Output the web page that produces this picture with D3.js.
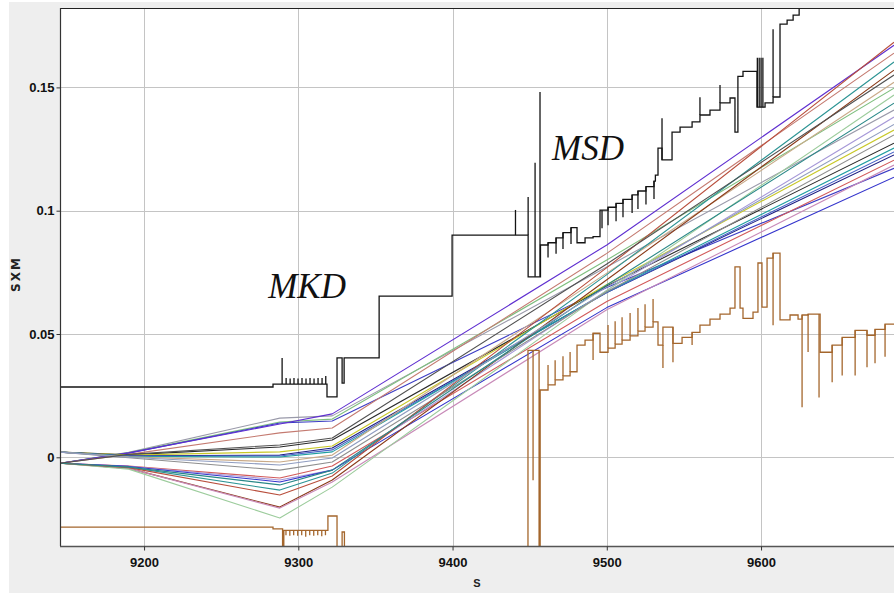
<!DOCTYPE html>
<html><head><meta charset="utf-8">
<script src="https://cdn.jsdelivr.net/npm/d3@7"></script>
<style>
html,body{margin:0;padding:0;background:#fff;}
svg{display:block;}
</style></head>
<body>
<svg id="c" width="894" height="595"></svg>
<script>
// ---------- DATA ----------
const xTicks = [9200, 9300, 9400, 9500, 9600];
const xTickLabels = ["9200", "9300", "9400", "9500", "9600"];
const yTicks = [0, 0.05, 0.1, 0.15];
const yTickLabels = ["0", "0.05", "0.1", "0.15"];
const xTitle = "S";
const yTitle = "SXM";
const annotations = ["MKD", "MSD"];

// S positions where the beam trajectories are sampled
const sKnots = [9145.5, 9190, 9288, 9322, 9500, 9686.2];
// trajectory SXM values at the knots
const trajectories = [
  [-0.0024, 0.0020, 0.0159, 0.0168, 0.0772, 0.1408],
  [-0.0024, 0.0019, 0.0143, 0.0155, 0.0800, 0.1497],
  [-0.0024, 0.0017, 0.0139, 0.0147, 0.0689, 0.1172],
  [-0.0024, 0.0018, 0.0135, 0.0176, 0.0861, 0.1671],
  [-0.0024, 0.0012, 0.0099, 0.0119, 0.0827, 0.1639],
  [ 0.0021, 0.0010, 0.0042, 0.0070, 0.0695, 0.1274],
  [ 0.0021, 0.0009, 0.0022, 0.0046, 0.0701, 0.1327],
  [ 0.0021, 0.0006, 0.0009, 0.0038, 0.0668, 0.1226],
  [ 0.0021, 0.0005, 0.0005, 0.0030, 0.0668, 0.1238],
  [ 0.0021, 0.0004, 0.0001, 0.0022, 0.0671, 0.1254],
  [ 0.0021, 0.0002,-0.0019, 0.0009, 0.0747, 0.1521],
  [-0.0024,-0.0035,-0.0084,-0.0035, 0.0632, 0.1205],
  [-0.0024,-0.0036,-0.0092,-0.0052, 0.0677, 0.1380],
  [-0.0024,-0.0037,-0.0100,-0.0052, 0.0607, 0.1136],
  [-0.0024,-0.0040,-0.0133,-0.0064, 0.0741, 0.1603],
  [-0.0024,-0.0045,-0.0202,-0.0092, 0.0720, 0.1570],
  [-0.0024,-0.0045,-0.0206,-0.0100, 0.0598, 0.1185],
  [-0.0024,-0.0048,-0.0246,-0.0121, 0.0677, 0.1469],
  [ 0.0021,-0.0002,-0.0052,-0.0019, 0.0671, 0.1307],
  [-0.0024,-0.0042,-0.0153,-0.0076, 0.0769, 0.1683],
  [-0.0024,-0.0040,-0.0112,-0.0052, 0.0699, 0.1436],
  [ 0.0021, 0.0000,-0.0031,-0.0003, 0.0691, 0.1350],
  [-0.0024, 0.0012, 0.0050, 0.0078, 0.0784, 0.1550]
];
const trajColors = [
  "#9a9aaa", "#7fbf7f", "#3c3cc4", "#5f2fd0", "#c47a70", "#2a2a2a",
  "#c8c828", "#1e1e82", "#4a64c8", "#1e9ea0", "#c9aa88", "#d25a5a",
  "#a698d8", "#3434cc", "#2c9494", "#8a3a18", "#c88ab8", "#9ccc9c",
  "#8e8e8e", "#b84e3c", "#2a8888", "#8f9cc0", "#505050"
];

// upper aperture (black): [S, level] step starts
const upperSteps = [
  [9145.5,0.0285],[9283.6,0.0297],[9318.6,0.0245],[9325.1,0.0403],[9328.4,0.0301],
  [9329.7,0.0403],[9352.4,0.0654],[9399.7,0.0901],[9449.0,0.0732],[9457.0,0.0861],
  [9461.9,0.0870],[9467.1,0.0890],[9471.6,0.0911],[9476.8,0.0931],[9480.7,0.0870],
  [9485.9,0.0890],[9491.1,0.0895],[9495.6,0.1002],[9500.8,0.1014],[9506.0,0.1030],
  [9510.5,0.1046],[9516.4,0.1064],[9520.2,0.1080],[9525.4,0.1098],[9530.6,0.1120],
  [9531.5,0.1144],[9533.2,0.1254],[9535.8,0.1206],[9542.3,0.1319],[9547.5,0.1339],
  [9555.3,0.1360],[9560.4,0.1388],[9566.9,0.1408],[9573.4,0.1437],[9579.9,0.1457],
  [9583.1,0.1319],[9585.0,0.1545],[9588.3,0.1565],[9597.4,0.1420],[9602.6,0.1437],
  [9607.8,0.1461],[9612.3,0.1757],[9616.9,0.1773],[9620.8,0.1793],[9624.7,0.1900],
  [9690.0,0.1900]
];
// upper aperture spikes: [S, from, to]
const upperSpikes = [
  [9289.5,0.0297,0.0403],
  [9292.1,0.0297,0.0322],[9294.7,0.0297,0.0320],[9297.2,0.0297,0.0322],[9299.8,0.0297,0.0320],
  [9302.4,0.0297,0.0322],[9305.0,0.0297,0.0320],[9307.6,0.0297,0.0322],[9310.2,0.0297,0.0320],
  [9312.8,0.0297,0.0322],[9315.4,0.0297,0.0322],[9317.8,0.0297,0.0330],
  [9440.8,0.0901,0.1003],[9449.0,0.0901,0.1056],[9453.5,0.0732,0.1194],[9456.7,0.0732,0.1481],
  [9461.9,0.0870,0.0810],[9467.1,0.0890,0.0825],[9471.6,0.0911,0.0845],[9476.8,0.0931,0.0865],
  [9496.9,0.1002,0.0929],[9500.8,0.1014,0.0941],[9506.0,0.1030,0.0957],[9510.5,0.1046,0.0973],
  [9516.4,0.1064,0.0991],[9520.2,0.1080,0.1007],[9525.4,0.1098,0.1025],[9530.6,0.1120,0.1047],
  [9535.8,0.1206,0.1375],[9560.4,0.1388,0.1460],[9573.4,0.1437,0.1510],
  [9597.6,0.1420,0.1620],[9598.8,0.1420,0.1620],[9600.0,0.1420,0.1620],[9601.2,0.1420,0.1620],
  [9607.8,0.1461,0.1736]
];

// lower aperture (brown): [S, level] step starts
const lowerSteps = [
  [9145.5,-0.0283],[9283.6,-0.0290],[9289.8,-0.0450],[9290.6,-0.0296],[9319.2,-0.0238],
  [9325.1,-0.0450],[9328.4,-0.0303],[9329.9,-0.0450],[9448.9,0.0434],[9456.1,-0.0450],
  [9456.8,0.0273],[9461.9,0.0294],[9466.5,0.0314],[9471.6,0.0330],[9476.2,0.0347],
  [9480.7,0.0455],[9485.9,0.0475],[9491.1,0.0503],[9495.6,0.0426],[9500.8,0.0443],
  [9505.4,0.0459],[9509.9,0.0475],[9515.1,0.0492],[9520.2,0.0512],[9524.8,0.0528],
  [9530.0,0.0549],[9533.2,0.0455],[9536.4,0.0528],[9542.9,0.0462],[9548.8,0.0486],
  [9555.3,0.0507],[9560.4,0.0536],[9566.9,0.0560],[9573.4,0.0581],[9579.9,0.0605],
  [9583.1,0.0772],[9586.4,0.0605],[9588.3,0.0563],[9594.8,0.0589],[9598.0,0.0788],
  [9600.6,0.0609],[9603.9,0.0808],[9607.8,0.0828],[9612.3,0.0557],[9618.8,0.0577],
  [9624.0,0.0560],[9626.6,0.0577],[9630.5,0.0581],[9638.3,0.0426],[9646.1,0.0455],
  [9652.6,0.0486],[9661.0,0.0515],[9668.7,0.0495],[9673.9,0.0519],[9680.4,0.0540],
  [9690.0,0.0540]
];
// lower aperture spikes: [S, from, to]
const lowerSpikes = [
  [9292.0,-0.0296,-0.0316],[9294.5,-0.0296,-0.0318],[9297.0,-0.0296,-0.0316],[9299.6,-0.0296,-0.0318],
  [9302.2,-0.0296,-0.0316],[9304.8,-0.0296,-0.0322],[9307.4,-0.0296,-0.0316],[9310.0,-0.0296,-0.0318],
  [9312.6,-0.0296,-0.0316],[9315.2,-0.0296,-0.0320],[9317.6,-0.0296,-0.0316],
  [9452.2,0.0434,-0.0093],
  [9461.9,0.0294,0.0374],[9466.5,0.0314,0.0394],[9471.6,0.0330,0.0410],[9476.2,0.0347,0.0427],
  [9491.1,0.0503,0.0395],
  [9500.8,0.0443,0.0536],[9505.4,0.0459,0.0552],[9509.9,0.0475,0.0568],[9515.1,0.0492,0.0585],
  [9520.2,0.0512,0.0605],[9524.8,0.0528,0.0621],[9530.0,0.0549,0.0642],
  [9536.4,0.0455,0.0362],[9542.9,0.0528,0.0385],[9555.3,0.0507,0.0455],
  [9607.8,0.0828,0.0535],[9626.6,0.0577,0.0203],[9630.5,0.0581,0.0427],[9637.6,0.0581,0.0243],
  [9646.1,0.0455,0.0304],[9652.6,0.0486,0.0332],[9661.0,0.0515,0.0332],[9668.7,0.0515,0.0365],
  [9673.9,0.0519,0.0381],[9680.4,0.0540,0.0408]
];

// ---------- DRAW ----------
const W = 894, H = 595;
const plot = {left: 60, right: 894, top: 8, bottom: 546};
const svg = d3.select("#c");

svg.append("rect").attr("x", 9).attr("y", 2).attr("width", W - 9).attr("height", 591).attr("fill", "#eeeeee");
svg.append("rect").attr("x", plot.left).attr("y", plot.top)
  .attr("width", plot.right - plot.left).attr("height", plot.bottom - plot.top).attr("fill", "#ffffff");

const x = d3.scaleLinear().domain([9145.5, 9686.2]).range([plot.left, plot.right]);
const y = d3.scaleLinear().domain([-0.03597, 0.18220]).range([plot.bottom, plot.top]);

// grid
const grid = svg.append("g").attr("shape-rendering", "crispEdges");
grid.selectAll(".gx").data(xTicks).join("line")
  .attr("x1", d => Math.round(x(d)) + 0.5).attr("x2", d => Math.round(x(d)) + 0.5)
  .attr("y1", plot.top).attr("y2", plot.bottom).attr("stroke", "#c4c4c4");
grid.selectAll(".gy").data(yTicks).join("line")
  .attr("y1", d => Math.round(y(d)) + 0.5).attr("y2", d => Math.round(y(d)) + 0.5)
  .attr("x1", plot.left).attr("x2", plot.right).attr("stroke", "#c4c4c4");

svg.append("clipPath").attr("id", "clip").append("rect")
  .attr("x", plot.left).attr("y", plot.top).attr("width", plot.right - plot.left).attr("height", plot.bottom - plot.top);
const g = svg.append("g").attr("clip-path", "url(#clip)");

// trajectories
const trajLine = d3.line().x((d, i) => x(sKnots[i])).y(d => y(d));
g.selectAll(".traj").data(trajectories).join("path")
  .attr("d", d => trajLine(d)).attr("fill", "none")
  .attr("stroke", (d, i) => trajColors[i]).attr("stroke-width", 1.1)
  .attr("stroke-linejoin", "round");

// apertures
const stepLine = d3.line().x(d => x(d[0])).y(d => y(d[1])).curve(d3.curveStepAfter);
function drawAperture(steps, spikes, color, width) {
  g.append("path").attr("d", stepLine(steps)).attr("fill", "none")
    .attr("stroke", color).attr("stroke-width", width);
  g.selectAll(null).data(spikes).join("line")
    .attr("x1", d => x(d[0])).attr("x2", d => x(d[0]))
    .attr("y1", d => y(d[1])).attr("y2", d => y(d[2]))
    .attr("stroke", color).attr("stroke-width", width);
}
drawAperture(lowerSteps, lowerSpikes, "#a4662c", 1.3);
drawAperture(upperSteps, upperSpikes, "#141414", 1.3);

// frame lines
svg.append("line").attr("x1", plot.left).attr("x2", plot.right).attr("y1", plot.top + 0.5).attr("y2", plot.top + 0.5)
  .attr("stroke", "#222").attr("stroke-width", 1.2);
svg.append("line").attr("x1", plot.left + 0.5).attr("x2", plot.left + 0.5).attr("y1", plot.top).attr("y2", plot.bottom)
  .attr("stroke", "#333").attr("stroke-width", 1.2);
svg.append("line").attr("x1", plot.left).attr("x2", plot.right).attr("y1", plot.bottom + 0.5).attr("y2", plot.bottom + 0.5)
  .attr("stroke", "#555").attr("stroke-width", 1.5);

// axes
const xAxis = d3.axisBottom(x).tickValues(xTicks).tickFormat((d, i) => xTickLabels[i]).tickSize(4).tickSizeOuter(0);
const yAxis = d3.axisLeft(y).tickValues(yTicks).tickFormat((d, i) => yTickLabels[i]).tickSize(4).tickSizeOuter(0);
const gx = svg.append("g").attr("transform", `translate(0,${plot.bottom + 0.5})`).call(xAxis);
const gy = svg.append("g").attr("transform", `translate(${plot.left + 0.5},0)`).call(yAxis);
[gx, gy].forEach(a => {
  a.select(".domain").remove();
  a.selectAll(".tick line").attr("stroke", "#333");
  a.selectAll(".tick text").attr("fill", "#111")
    .style("font-family", "'Liberation Sans', Arial, sans-serif")
    .style("font-weight", "bold").style("font-size", "13px");
});
gx.selectAll(".tick text").attr("dy", "0.71em").attr("y", 11);
gy.selectAll(".tick text").attr("x", -6);

// titles
svg.append("text").attr("x", (plot.left + plot.right) / 2).attr("y", 587)
  .attr("text-anchor", "middle").attr("fill", "#222")
  .style("font-family", "'Liberation Sans', Arial, sans-serif").style("font-weight", "bold").style("font-size", "11px")
  .text(xTitle);
svg.append("text").attr("transform", "translate(20,274) rotate(-90)")
  .attr("text-anchor", "middle").attr("fill", "#222")
  .style("font-family", "'DejaVu Sans', sans-serif").style("font-weight", "bold").style("font-size", "12px").style("letter-spacing", "2px")
  .text(yTitle);

// annotations
const annoStyle = s => s.attr("fill", "#111")
  .style("font-family", "'Liberation Serif', 'Times New Roman', serif")
  .style("font-style", "italic").style("font-size", "35px");
svg.append("text").attr("x", x(9280.5)).attr("y", y(0.06475)).text(annotations[0]).call(annoStyle);
svg.append("text").attr("x", x(9464.5)).attr("y", y(0.1206)).text(annotations[1]).call(annoStyle);
</script>
</body></html>
